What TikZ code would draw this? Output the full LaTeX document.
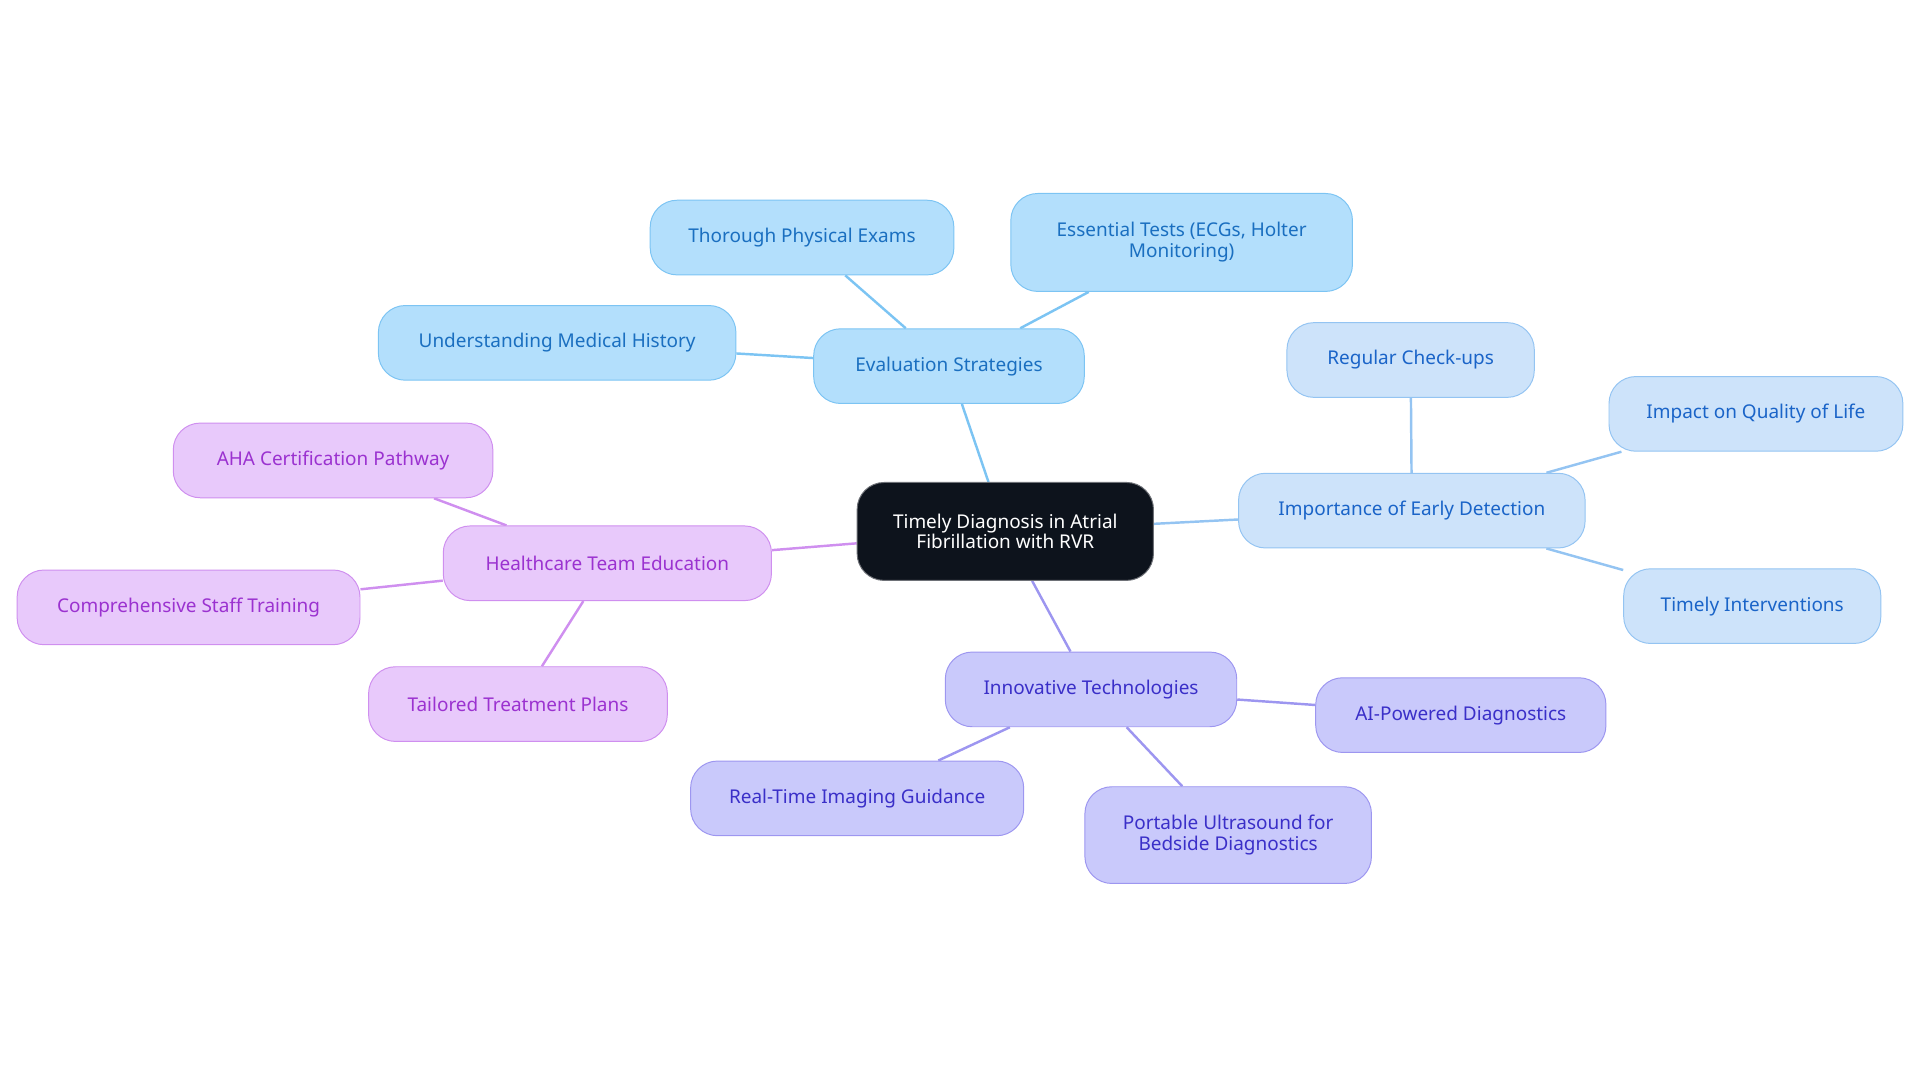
\documentclass[tikz,border=0pt]{standalone}
\usepackage{fontspec}
\setmainfont{Noto Sans}
\usetikzlibrary{backgrounds}
\definecolor{cdark}{HTML}{0D131C}
\definecolor{bfill}{HTML}{B3DFFC}\definecolor{bdraw}{HTML}{7CC4F3}\definecolor{btext}{HTML}{1A6FC0}
\definecolor{lfill}{HTML}{CDE3FA}\definecolor{ldraw}{HTML}{94C4F2}\definecolor{ltext}{HTML}{1A64C8}
\definecolor{ifill}{HTML}{C9C9FB}\definecolor{idraw}{HTML}{9D96F0}\definecolor{itext}{HTML}{3A2FC8}
\definecolor{pfill}{HTML}{E8C9FB}\definecolor{pdraw}{HTML}{CF8FEF}\definecolor{ptext}{HTML}{9B32D0}
\begin{document}
\begin{tikzpicture}[x=1pt,y=-1pt,
 box/.style={rounded corners=22pt,minimum height=61pt,align=center,font=\fontsize{15.5}{17}\selectfont,inner sep=0pt,line width=0.8pt},
 eb/.style={box,fill=bfill,draw=bdraw,text=btext},
 lb/.style={box,fill=lfill,draw=ldraw,text=ltext},
 ib/.style={box,fill=ifill,draw=idraw,text=itext},
 pb/.style={box,fill=pfill,draw=pdraw,text=ptext},
 e/.style={line width=2pt}]
\useasboundingbox (0,0) rectangle (1568,884);
\node[box,fill=cdark,draw=cdark!60,text=white,minimum width=242pt,minimum height=80pt] (c) at (821,434) {Timely Diagnosis in Atrial\\Fibrillation with RVR};
\node[eb,minimum width=221pt] (es) at (775,299) {Evaluation Strategies};
\node[eb,minimum width=248pt] (tp) at (655,194) {Thorough Physical Exams};
\node[eb,minimum width=279pt,minimum height=80pt] (et) at (965,198) {Essential Tests (ECGs, Holter\\Monitoring)};
\node[eb,minimum width=292pt] (um) at (455,280) {Understanding Medical History};
\node[lb,minimum width=283pt] (ie) at (1153,417) {Importance of Early Detection};
\node[lb,minimum width=202pt] (rc) at (1152,294) {Regular Check-ups};
\node[lb,minimum width=240pt] (iq) at (1434,338) {Impact on Quality of Life};
\node[lb,minimum width=210pt] (ti) at (1431,495) {Timely Interventions};
\node[ib,minimum width=238pt] (it) at (891,563) {Innovative Technologies};
\node[ib,minimum width=237pt] (ai) at (1193,584) {AI-Powered Diagnostics};
\node[ib,minimum width=272pt] (rt) at (700,652) {Real-Time Imaging Guidance};
\node[ib,minimum width=234pt,minimum height=79pt] (pu) at (1003,682) {Portable Ultrasound for\\Bedside Diagnostics};
\node[pb,minimum width=268pt] (he) at (496,460) {Healthcare Team Education};
\node[pb,minimum width=261pt] (ah) at (272,376) {AHA Certification Pathway};
\node[pb,minimum width=280pt] (cs) at (154,496) {Comprehensive Staff Training};
\node[pb,minimum width=244pt] (tt) at (423,575) {Tailored Treatment Plans};
\begin{scope}[on background layer]
\draw[e,bdraw] (c)--(es) (es)--(tp) (es)--(et) (es)--(um);
\draw[e,ldraw] (c)--(ie) (ie)--(rc) (ie)--(iq) (ie)--(ti);
\draw[e,idraw] (c)--(it) (it)--(ai) (it)--(rt) (it)--(pu);
\draw[e,pdraw] (c)--(he) (he)--(ah) (he)--(cs) (he)--(tt);
\end{scope}
\end{tikzpicture}
\end{document}
